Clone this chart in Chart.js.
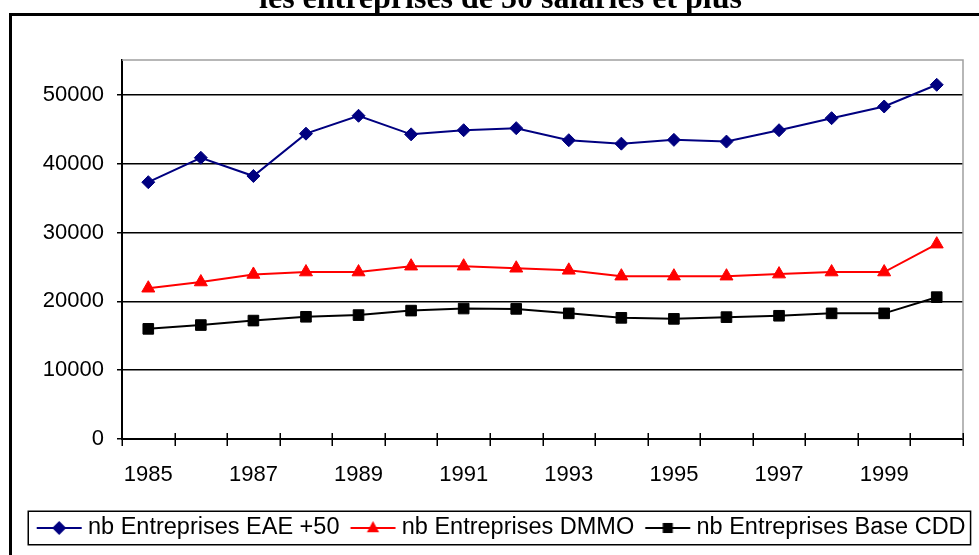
<!DOCTYPE html>
<html><head><meta charset="utf-8">
<script src="https://cdn.jsdelivr.net/npm/chart.js@4/dist/chart.umd.min.js"></script>
<style>html,body{margin:0;padding:0;background:#fff;overflow:hidden}</style>
</head><body>
<canvas id="c" width="979" height="555"></canvas>
<script>
const chartTitle = 'les entreprises de 50 salariés et plus';
const years = ['1985','1986','1987','1988','1989','1990','1991','1992','1993','1994','1995','1996','1997','1998','1999','2000'];
const eae50 = [37300, 40850, 38200, 44350, 46950, 44250, 44850, 45150, 43400, 42900, 43450, 43200, 44850, 46600, 48300, 51450];
const dmmo = [21900, 22800, 23900, 24250, 24250, 25100, 25100, 24800, 24500, 23650, 23650, 23650, 23950, 24250, 24250, 28300];
const baseCdd = [16000, 16550, 17200, 17750, 18000, 18650, 18950, 18900, 18250, 17600, 17450, 17700, 17900, 18250, 18250, 20600];
const yTickValues = [0, 10000, 20000, 30000, 40000, 50000];
const seriesNames = ['nb Entreprises EAE +50', 'nb Entreprises DMMO', 'nb Entreprises Base CDD'];
const seriesColors = ['#000080', '#ff0000', '#000000'];
const seriesMarkers = ['rectRot', 'triangle', 'rect'];

function drawMarker(ctx, style, x, y, r) {
  ctx.beginPath();
  if (style === 'rectRot') {
    ctx.moveTo(x, y - r); ctx.lineTo(x + r, y); ctx.lineTo(x, y + r); ctx.lineTo(x - r, y); ctx.closePath();
  } else if (style === 'triangle') {
    ctx.moveTo(x, y - r); ctx.lineTo(x + r * 0.87, y + r * 0.6); ctx.lineTo(x - r * 0.87, y + r * 0.6); ctx.closePath();
  } else {
    ctx.rect(x - r * 0.72, y - r * 0.72, r * 1.44, r * 1.44);
  }
  ctx.fill();
}
// legend symbol: 45px line with marker, shifted 5.45px right of the image centre
function legendIcon(color, style) {
  const c = document.createElement('canvas');
  c.width = 60; c.height = 18;
  const g = c.getContext('2d');
  const cx = 30 + 5.45;
  g.strokeStyle = color; g.fillStyle = color; g.lineWidth = 2;
  g.beginPath(); g.moveTo(cx - 22.5, 9); g.lineTo(cx + 22.5, 9); g.stroke();
  drawMarker(g, style, cx, 9, 7);
  return c;
}
const icons = seriesColors.map((c, i) => legendIcon(c, seriesMarkers[i]));

const decor = {
  id: 'decor',
  afterDraw(chart) {
    const ctx = chart.ctx;
    const ca = chart.chartArea;
    const xs = chart.scales.x;
    ctx.save();
    ctx.strokeStyle = '#a0a0a0'; ctx.lineWidth = 1.5;
    ctx.beginPath(); ctx.moveTo(ca.left, ca.top); ctx.lineTo(ca.right, ca.top); ctx.lineTo(ca.right, ca.bottom); ctx.stroke();
    ctx.strokeStyle = '#000'; ctx.lineWidth = 1.5;
    const n = years.length;
    for (let i = 0; i <= n; i++) {
      const x = Math.round(xs.left + i * xs.width / n) + 0.25;
      ctx.beginPath(); ctx.moveTo(x, ca.bottom - 6); ctx.lineTo(x, ca.bottom + 7); ctx.stroke();
    }
    const hb = chart.legend.legendHitBoxes;
    if (hb && hb.length) {
      const last = hb[hb.length - 1];
      const l = hb[0].left - 3, r = last.left + last.width + 5;
      const t = hb[0].top - 5, b = hb[0].top + hb[0].height + 5;
      ctx.lineWidth = 1.5; ctx.strokeStyle = '#000';
      ctx.strokeRect(l, t, r - l, b - t);
    }
    ctx.lineWidth = 3; ctx.strokeStyle = '#000';
    ctx.strokeRect(10.5, 14.5, 2000, 2000);
    ctx.fillStyle = '#000';
    ctx.font = 'bold 32px "Liberation Serif", "Times New Roman", serif';
    ctx.textAlign = 'center'; ctx.textBaseline = 'alphabetic';
    ctx.fillText(chartTitle, 500.5, 8);
    ctx.restore();
  }
};

const mk = (label, data, i) => ({
  label, data,
  borderColor: seriesColors[i], backgroundColor: seriesColors[i],
  borderWidth: 2, pointStyle: seriesMarkers[i],
  pointRadius: i === 0 ? 6.5 : 7.5, pointBorderWidth: 1, pointBorderColor: seriesColors[i], pointHoverRadius: 7,
  tension: 0, fill: false
});

new Chart(document.getElementById('c'), {
  type: 'line',
  data: {
    labels: years,
    datasets: [mk(seriesNames[0], eae50, 0), mk(seriesNames[1], dmmo, 1), mk(seriesNames[2], baseCdd, 2)]
  },
  options: {
    responsive: false, animation: false, devicePixelRatio: 1,
    layout: { padding: { left: 25.7, right: 0, top: 60, bottom: 5.25 } },
    plugins: {
      title: { display: false }, tooltip: { enabled: false },
      legend: {
        position: 'bottom', align: 'start',
        labels: {
          usePointStyle: true, pointStyleWidth: 45, padding: 5.55, color: '#000',
          font: { family: '"Liberation Sans", Arial, sans-serif', size: 23.5 },
          generateLabels: (chart) => chart.data.datasets.map((ds, i) => ({
            text: ds.label, pointStyle: icons[i], datasetIndex: i,
            fillStyle: seriesColors[i], strokeStyle: seriesColors[i], lineWidth: 0, hidden: false, fontColor: '#000'
          }))
        }
      }
    },
    scales: {
      x: {
        offset: true,
        grid: { display: false, drawTicks: false },
        border: { display: true, color: '#000', width: 2 },
        ticks: {
          autoSkip: false, maxRotation: 0, padding: 23, color: '#000',
          font: { family: '"Liberation Sans", Arial, sans-serif', size: 22 },
          callback: (v, i) => (i % 2 === 0 ? years[i] : '')
        },
        afterFit: (s) => { s.height = 71.7; }
      },
      y: {
        min: 0, max: 55050,
        afterBuildTicks: (s) => { s.ticks = yTickValues.map(v => ({ value: v })); },
        grid: { color: '#000', lineWidth: 1.5, tickLength: 5, tickColor: '#000' },
        border: { display: true, color: '#000', width: 2 },
        ticks: {
          padding: 13, color: '#000',
          font: { family: '"Liberation Sans", Arial, sans-serif', size: 22 },
          callback: (v) => String(v)
        },
        afterFit: (s) => { s.width = 96.3; }
      },
      yRight: {
        position: 'right', display: true, min: 0, max: 1,
        grid: { display: false, drawTicks: false },
        border: { display: false },
        ticks: { display: false },
        afterFit: (s) => { s.width = 16; }
      }
    }
  },
  plugins: [decor]
});
</script>
</body></html>
